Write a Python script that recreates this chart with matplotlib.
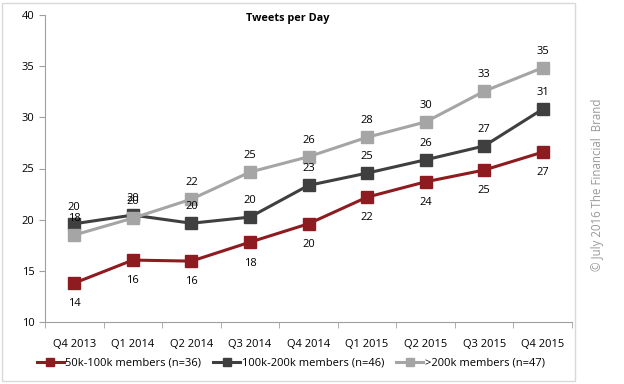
import matplotlib
matplotlib.use("Agg")
import matplotlib.pyplot as plt
from matplotlib.patches import Rectangle

categories = ["Q4 2013", "Q1 2014", "Q2 2014", "Q3 2014", "Q4 2014",
              "Q1 2015", "Q2 2015", "Q3 2015", "Q4 2015"]
s_small = [13.8, 16.05, 15.95, 17.8, 19.6, 22.2, 23.7, 24.85, 26.6]
s_mid = [19.6, 20.45, 19.65, 20.25, 23.35, 24.55, 25.85, 27.2, 30.8]
s_large = [18.5, 20.15, 22.0, 24.65, 26.15, 28.05, 29.55, 32.55, 34.85]
lbl_small = ["14", "16", "16", "18", "20", "22", "24", "25", "27"]
lbl_mid = ["20", "20", "20", "20", "23", "25", "26", "27", "31"]
lbl_large = ["18", "20", "22", "25", "26", "28", "30", "33", "35"]
names = ["50k-100k members (n=36)", "100k-200k members (n=46)", ">200k members (n=47)"]
colors = ["#8E1B20", "#3F3F3F", "#A5A5A5"]

plt.rcParams['font.family'] = ['Open Sans', 'DejaVu Sans']
fig = plt.figure(figsize=(6.24, 3.84), dpi=100)
W, H = 624, 384
ax = fig.add_axes([45 / W, 1 - 322 / H, (572 - 45) / W, (322 - 15) / H])

x = list(range(len(categories)))
series = [s_small, s_mid, s_large]
for vals, c, n in zip(series, colors, names):
    ax.plot(x, vals, color=c, lw=2.2, marker='s', ms=8, label=n, zorder=3)

fs = 8
for i in x:
    ax.annotate(lbl_small[i], (i, s_small[i]), xytext=(0, -15), textcoords='offset points',
                ha='center', va='center', fontsize=fs)
    ax.annotate(lbl_mid[i], (i, s_mid[i]), xytext=(0, 12), textcoords='offset points',
                ha='center', va='center', fontsize=fs)
    ax.annotate(lbl_large[i], (i, s_large[i]), xytext=(0, 12), textcoords='offset points',
                ha='center', va='center', fontsize=fs)

ax.set_xlim(-0.5, len(categories) - 0.5)
ax.set_ylim(10, 40)
ax.set_yticks([10, 15, 20, 25, 30, 35, 40])
ax.set_xticks(x)
ax.set_xticklabels(categories, fontsize=fs)
ax.tick_params(axis='x', length=0, pad=12)
ax.set_xticks([i - 0.5 for i in range(len(categories) + 1)], minor=True)
ax.tick_params(axis='x', which='minor', length=4, color='#A0A0A0', direction='out')
ax.tick_params(axis='y', labelsize=fs, length=4, color='#A0A0A0', direction='out')
for s in ['top', 'right']:
    ax.spines[s].set_visible(False)
for s in ['left', 'bottom']:
    ax.spines[s].set_color('#A0A0A0')

fig.text(288 / W, 1 - 19 / H, "Tweets per Day", ha='center', va='center',
         fontsize=7.8, fontweight='bold')

leg = fig.legend(loc='center', bbox_to_anchor=(0.466, 1 - 363 / H), ncol=3, frameon=False,
                 fontsize=fs, handlelength=2.4, columnspacing=1.1, handletextpad=0.15,
                 markerscale=0.8)

fig.patches.append(Rectangle((2 / W, 3 / H), (575 - 2) / W, (381 - 3) / H,
                             transform=fig.transFigure, fill=False,
                             edgecolor='#D9D9D9', lw=1))
fig.text(597 / W, 1 - 185 / H, "© July 2016 The Financial  Brand", rotation=90,
         ha='center', va='center', fontsize=8.3, color='#999999')

fig.savefig("out.png", dpi=100)
